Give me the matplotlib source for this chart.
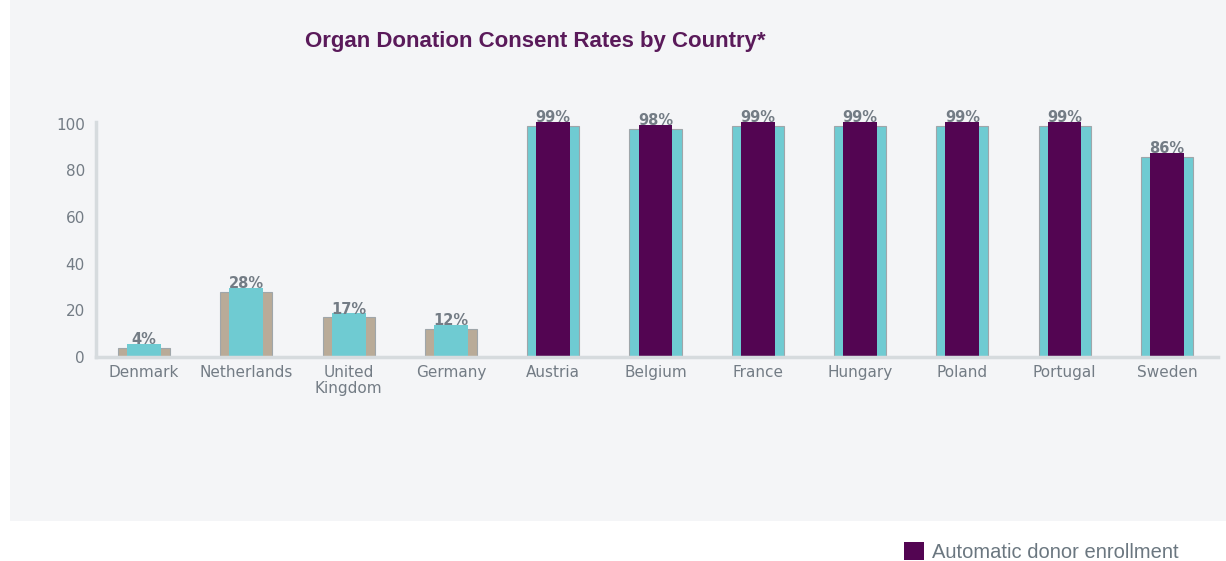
import matplotlib
matplotlib.use("Agg")
import matplotlib.pyplot as plt
from matplotlib.patches import Rectangle, Patch
from matplotlib import font_manager as fm

countries = ["Denmark", "Netherlands", "United\nKingdom", "Germany", "Austria",
             "Belgium", "France", "Hungary", "Poland", "Portugal", "Sweden"]
consent = [4, 28, 17, 12, 99, 98, 99, 99, 99, 99, 86]
automatic = [False, False, False, False, True, True, True, True, True, True, True]
yticks = [0, 20, 40, 60, 80, 100]
title = "Organ Donation Consent Rates by Country*"
legend_label = "Automatic donor enrollment"

TAN = "#b9ab98"
CYAN = "#6fcbd2"
PURPLE = "#530552"
GREY_TXT = "#737c85"
PANEL = "#f4f5f7"
SPINE = "#d6dbde"


def find_font(bold):
    for f in fm.fontManager.ttflist:
        if "Narrow" in f.fname:
            continue
        if f.name == "Liberation Sans" and f.style == "normal":
            isbold = f.weight in ("bold", 700) or "Bold" in f.fname
            if isbold == bold:
                return fm.FontProperties(fname=f.fname)
    return fm.FontProperties(family="Liberation Sans",
                             weight="bold" if bold else "normal")


W, H = 1226, 561
fig = plt.figure(figsize=(W / 100, H / 100), dpi=100)
fig.patch.set_facecolor("white")
fig.patches.append(Rectangle((10 / W, 40 / H), 1 - 10 / W, 1 - 40 / H,
                             transform=fig.transFigure, facecolor=PANEL,
                             edgecolor="none", zorder=-10))

ax = fig.add_axes([96 / W, (H - 357) / H, (1218 - 96) / W, 235 / H])
ax.set_facecolor("none")

x = list(range(len(countries)))
back_col = [CYAN if a else TAN for a in automatic]
front_col = [PURPLE if a else CYAN for a in automatic]
depth = 1.7
ax.bar(x, consent, width=0.51, color=back_col, edgecolor="#9fa6aa",
       linewidth=0.8, zorder=2)
ax.bar(x, [v + depth for v in consent], width=0.33, color=front_col,
       linewidth=0, zorder=3)
for xi, v in zip(x, consent):
    ax.text(xi, v + 0.3, f"{v}%", ha="center", va="bottom", fontsize=10.5,
            color=GREY_TXT, fontweight="semibold", zorder=4,
            family="DejaVu Sans")

ax.set_xlim(-0.47, 10.5)
ax.set_ylim(0, 100.8)
ax.set_yticks(yticks)
ax.set_yticklabels([str(t) for t in yticks])
ax.set_xticks(x)
ax.set_xticklabels(countries, linespacing=1.05)
ax.tick_params(axis="both", length=0, colors=GREY_TXT, labelsize=11)
ax.tick_params(axis="y", pad=8)
ax.tick_params(axis="x", pad=6)
for lab in ax.get_xticklabels() + ax.get_yticklabels():
    lab.set_family("DejaVu Sans")
    lab.set_color(GREY_TXT)

for s in ["top", "right"]:
    ax.spines[s].set_visible(False)
for s in ["left", "bottom"]:
    ax.spines[s].set_color(SPINE)
    ax.spines[s].set_linewidth(2.5)
    ax.spines[s].set_zorder(5)

tfp = find_font(True)
tfp.set_size(16)
fig.text(535 / W, 1 - 42 / H, title, ha="center", va="center",
         fontproperties=tfp, color="#5a1a5a")

lfp = find_font(False)
lfp.set_size(14.5)
leg = fig.legend(handles=[Patch(facecolor=PURPLE, edgecolor="none",
                                label=legend_label)],
                 loc="center left", bbox_to_anchor=(886 / W, 1 - 552 / H),
                 frameon=False, handlelength=1.0, handleheight=1.0,
                 handletextpad=0.4, prop=lfp)
for t in leg.get_texts():
    t.set_color("#6b7780")

fig.savefig("out.png", dpi=100, facecolor="white")
